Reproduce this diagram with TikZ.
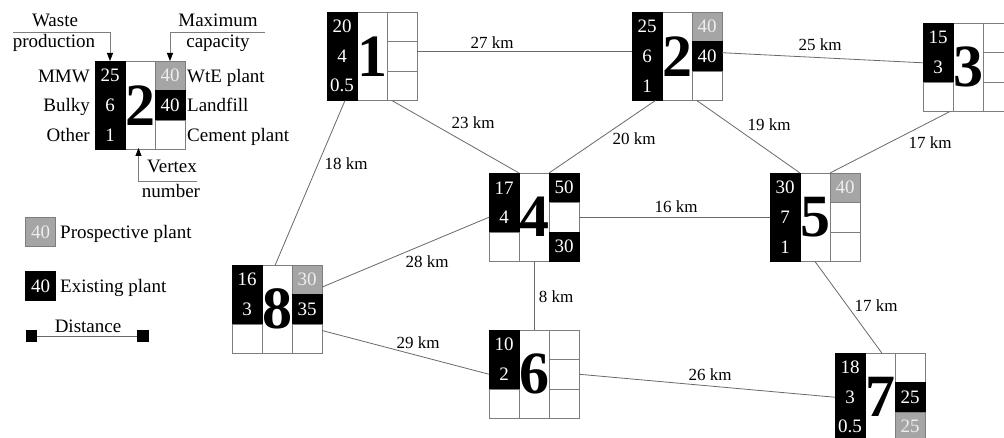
\documentclass[tikz,border=0pt]{standalone}
\usepackage{fontspec}
\setmainfont{Liberation Serif}
\usetikzlibrary{calc,arrows.meta}

\definecolor{gridgray}{RGB}{125,125,125}
\definecolor{edgegray}{RGB}{105,105,105}
\definecolor{plantgray}{RGB}{165,165,165}
\definecolor{numgray}{RGB}{238,238,238}

\tikzset{
  vbox/.style={draw=gridgray, fill=white, line width=0.9pt, minimum width=90pt,
    minimum height=88.5pt, inner sep=0pt, outer sep=0pt, anchor=north west},
  cellbox/.style={draw=gridgray, line width=0.9pt, minimum width=30pt,
    minimum height=29.5pt, inner sep=0pt, outer sep=0pt, font=\fontsize{19}{19}\selectfont},
  emptycell/.style={cellbox, fill=white},
  blackcell/.style={cellbox, fill=black, draw=black, text=white},
  graycell/.style={cellbox, fill=plantgray, text=numgray},
  bignum/.style={font=\fontsize{60}{60}\selectfont\bfseries, inner sep=0pt},
  link/.style={draw=edgegray, line width=0.8pt},
  km/.style={font=\fontsize{17}{17}\selectfont, inner sep=1pt},
  legtext/.style={font=\fontsize{19}{19}\selectfont, inner sep=0pt},
  pointer/.style={draw=gridgray, line width=0.8pt,
    -{Triangle[length=8pt,width=6pt,color=black]}},
}

% outline of a vertex box: name, top-left x, top-left y
\newcommand\vtx[3]{\node[vbox] (#1) at (#2,#3) {};}
% one cell of a vertex: vertex name, column, row, style, text
\newcommand\vc[5]{\node[#4] (#1c#2#3) at ($(#1.north west)+({(#2-0.5)*30},{(#3-0.5)*29.5})$) {#5};}
% the vertex number in the middle column
\newcommand\vnum[2]{\node[bignum] (#1n) at ($(#1.north west)+(45,44.25)$) {#2};}

\begin{document}
\begin{tikzpicture}[x=1pt,y=-1pt]
\useasboundingbox (0,0) rectangle (1004,438);
\fill[white] (0,0) rectangle (1004,438);

% ---------- key vertex ----------
\vtx{v0}{95}{61}
\vc{v0}{1}{1}{blackcell}{25}
\vc{v0}{1}{2}{blackcell}{6}
\vc{v0}{1}{3}{blackcell}{1}
\vc{v0}{3}{1}{graycell}{40}
\vc{v0}{3}{2}{blackcell}{40}
\vc{v0}{3}{3}{emptycell}{}
\vnum{v0}{2}

\node[legtext, anchor=base east] (kmmw) at (90,82.5) {MMW};
\node[legtext, anchor=base east] (kbul) at (90,112) {Bulky};
\node[legtext, anchor=base east] (koth) at (90,141.5) {Other};
\node[legtext, anchor=base west] (kwte) at (187,82.5) {WtE plant};
\node[legtext, anchor=base west] (klan) at (187,112) {Landfill};
\node[legtext, anchor=base west] (kcem) at (187,141.5) {Cement plant};

\node[legtext] (kwaste) at (55,20) {Waste};
\node[legtext] (kprod) at (54,43) {production};
\coordinate (kwp) at (13,32);
\draw[pointer] (kwp) -| ($(v0.north west)!1/6!(v0.north east)$);

\node[legtext] (kmax) at (218,20) {Maximum};
\node[legtext] (kcap) at (218,43) {capacity};
\coordinate (kmc) at (265,32);
\draw[pointer] (kmc) -| ($(v0.north west)!5/6!(v0.north east)$);

\node[legtext] (kvert) at (172,166) {Vertex};
\node[legtext] (knum) at (171,191) {number};
\coordinate (kvn) at (197,181);
\draw[pointer] (kvn) -| ([xshift=-1.5pt,yshift=1.5pt]v0.south);

\node[graycell] (kpp) at (40.5,232) {40};
\node[legtext, anchor=base west] (kppt) at (60,238.5) {Prospective plant};
\node[blackcell] (kep) at (40.5,286) {40};
\node[legtext, anchor=base west] (kept) at (60,292.5) {Existing plant};

\node[fill=black, minimum size=11.5pt, inner sep=0pt, outer sep=0pt] (kda) at (31.5,336) {};
\node[fill=black, minimum size=11.5pt, inner sep=0pt, outer sep=0pt] (kdb) at (143,336) {};
\draw[link] (kda) -- (kdb);
\node[legtext, anchor=base] (kdist) at (88,333) {Distance};

% ---------- vertices ----------
\vtx{v1}{327}{12}
\vc{v1}{1}{1}{blackcell}{20}
\vc{v1}{1}{2}{blackcell}{4}
\vc{v1}{1}{3}{blackcell}{0.5}
\vc{v1}{3}{1}{emptycell}{}
\vc{v1}{3}{2}{emptycell}{}
\vc{v1}{3}{3}{emptycell}{}
\vnum{v1}{1}

\vtx{v2}{632}{12}
\vc{v2}{1}{1}{blackcell}{25}
\vc{v2}{1}{2}{blackcell}{6}
\vc{v2}{1}{3}{blackcell}{1}
\vc{v2}{3}{1}{graycell}{40}
\vc{v2}{3}{2}{blackcell}{40}
\vc{v2}{3}{3}{emptycell}{}
\vnum{v2}{2}

\vtx{v3}{923}{23}
\vc{v3}{1}{1}{blackcell}{15}
\vc{v3}{1}{2}{blackcell}{3}
\vc{v3}{1}{3}{emptycell}{}
\vc{v3}{3}{1}{emptycell}{}
\vc{v3}{3}{2}{emptycell}{}
\vc{v3}{3}{3}{emptycell}{}
\vnum{v3}{3}

\vtx{v4}{489}{173}
\vc{v4}{1}{1}{blackcell}{17}
\vc{v4}{1}{2}{blackcell}{4}
\vc{v4}{1}{3}{emptycell}{}
\vc{v4}{3}{1}{blackcell}{50}
\vc{v4}{3}{2}{emptycell}{}
\vc{v4}{3}{3}{blackcell}{30}
\vnum{v4}{4}

\vtx{v5}{770}{173}
\vc{v5}{1}{1}{blackcell}{30}
\vc{v5}{1}{2}{blackcell}{7}
\vc{v5}{1}{3}{blackcell}{1}
\vc{v5}{3}{1}{graycell}{40}
\vc{v5}{3}{2}{emptycell}{}
\vc{v5}{3}{3}{emptycell}{}
\vnum{v5}{5}

\vtx{v8}{232}{265}
\vc{v8}{1}{1}{blackcell}{16}
\vc{v8}{1}{2}{blackcell}{3}
\vc{v8}{1}{3}{emptycell}{}
\vc{v8}{3}{1}{graycell}{30}
\vc{v8}{3}{2}{blackcell}{35}
\vc{v8}{3}{3}{emptycell}{}
\vnum{v8}{8}

\vtx{v6}{489}{330}
\vc{v6}{1}{1}{blackcell}{10}
\vc{v6}{1}{2}{blackcell}{2}
\vc{v6}{1}{3}{emptycell}{}
\vc{v6}{3}{1}{emptycell}{}
\vc{v6}{3}{2}{emptycell}{}
\vc{v6}{3}{3}{emptycell}{}
\vnum{v6}{6}

\vtx{v7}{835}{353}
\vc{v7}{1}{1}{blackcell}{18}
\vc{v7}{1}{2}{blackcell}{3}
\vc{v7}{1}{3}{blackcell}{0.5}
\vc{v7}{3}{1}{emptycell}{}
\vc{v7}{3}{2}{blackcell}{25}
\vc{v7}{3}{3}{graycell}{25}
\vnum{v7}{7}

% ---------- connections ----------
\draw[link] ($(v1.north east)!.45!(v1.south east)$) -- ($(v2.north west)!.45!(v2.south west)$);
\draw[link] ($(v2.north east)!.46!(v2.south east)$) -- ($(v3.north west)!.45!(v3.south west)$);
\draw[link] ($(v1.south west)!.2!(v1.south east)$) -- ($(v8.north west)!.48!(v8.north east)$);
\draw[link] ($(v1.south west)!.72!(v1.south east)$) -- ($(v4.north west)!1/3!(v4.north east)$);
\draw[link] ($(v2.south west)!.26!(v2.south east)$) -- ($(v4.north west)!2/3!(v4.north east)$);
\draw[link] ($(v2.south west)!.72!(v2.south east)$) -- ($(v5.north west)!1/3!(v5.north east)$);
\draw[link] ($(v3.south west)!.3!(v3.south east)$) -- ($(v5.north west)!2/3!(v5.north east)$);
\draw[link] (v4.east) -- (v5.west);
\draw[link] (v4.west) -- ($(v8.north east)!.25!(v8.south east)$);
\draw[link] (v4.south) -- (v6.north);
\draw[link] ($(v8.north east)!.74!(v8.south east)$) -- (v6.west);
\draw[link] (v6.east) -- (v7.west);
\draw[link] (v5.south) -- ($(v7.north west)!.52!(v7.north east)$);

\node[km] (d12) at (492,43) {27 km};
\node[km] (d23) at (820,45) {25 km};
\node[km] (d18) at (346,164) {18 km};
\node[km] (d14) at (473,123) {23 km};
\node[km] (d24) at (634,139) {20 km};
\node[km] (d25) at (769,125) {19 km};
\node[km] (d35) at (930,143) {17 km};
\node[km] (d45) at (676,207) {16 km};
\node[km] (d48) at (427,262) {28 km};
\node[km] (d46) at (556,297) {8 km};
\node[km] (d57) at (876,306) {17 km};
\node[km] (d86) at (418,343) {29 km};
\node[km] (d67) at (710,375) {26 km};
\end{tikzpicture}
\end{document}
